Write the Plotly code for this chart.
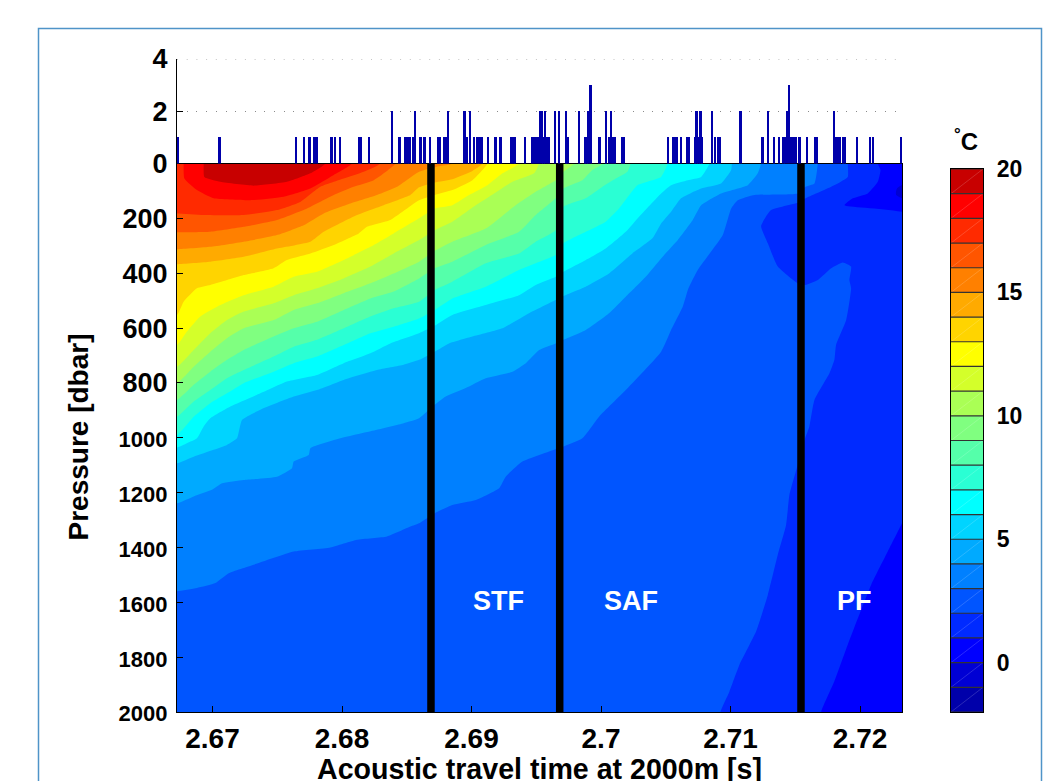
import plotly.graph_objects as go

W, H = 1051, 781
X_RANGE = [2.66726, 2.72324]

# Isotherm paths: travel time [s] and pressure [dbar]
iso = {}
iso[19] = ([2.66932,2.66937,2.67061,2.67318,2.67575,2.67756,2.67871],
           [0,49,67,81,67,36,0])
iso[18] = ([2.66777,2.66783,2.66880,2.67009,2.67292,2.67550,2.67756,2.67936,2.68077],
           [0,55,97,127,134,121,91,42,0])
iso[17] = ([2.66726,2.66932,2.67241,2.67498,2.67678,2.67833,2.68013,2.68167,2.68296],
           [182,188,188,170,140,85,55,30,0])
iso[16] = ([2.66726,2.66983,2.67241,2.67498,2.67730,2.67936,2.68090,2.68245,2.68412],
           [251,249,231,206,164,115,85,61,0])
iso[15] = ([2.66726,2.66983,2.67241,2.67498,2.67704,2.67859,2.68064,2.68270,2.68425,2.68595,2.68749,2.68852],
           [313,304,285,261,225,182,146,115,85,30,10,0])
iso[14] = ([2.66726,2.66983,2.67241,2.67498,2.67756,2.67859,2.68116,2.68322,2.68528,2.68595,2.68716,2.68852,2.69007,2.69084],
           [367,358,340,310,285,249,188,152,115,87,69,57,27,0])
iso[13] = ([2.66726,2.66777,2.66880,2.66983,2.67112,2.67241,2.67472,2.67575,2.67756,2.67936,2.68129,2.68193,2.68373,2.68595,2.68716,2.68852,2.69007,2.69123],
           [552,504,455,443,425,407,382,352,328,297,255,231,206,134,115,97,61,0])
iso[12] = ([2.66726,2.66803,2.66906,2.67061,2.67241,2.67472,2.67627,2.67807,2.68013,2.68219,2.68399,2.68595,2.68716,2.68852,2.68981,2.69123,2.69239,2.69367],
           [662,613,558,516,480,449,413,395,352,304,255,200,164,152,115,79,36,0])
iso[11] = ([2.66726,2.66855,2.66983,2.67112,2.67241,2.67472,2.67627,2.67807,2.68013,2.68219,2.68399,2.68595,2.68716,2.68852,2.69033,2.69136,2.69316,2.69483,2.69522],
           [741,680,619,571,540,510,480,455,419,376,328,279,243,212,152,121,67,36,0])
iso[10] = ([2.66726,2.66855,2.66983,2.67112,2.67241,2.67472,2.67627,2.67807,2.68013,2.68219,2.68399,2.68595,2.68716,2.68852,2.69110,2.69341,2.69496,2.69650,2.69710,2.69792],
           [801,741,686,637,601,571,534,510,473,437,401,358,318,285,237,152,103,61,30,0])
iso[9] = ([2.66726,2.66855,2.66983,2.67112,2.67241,2.67472,2.67627,2.67807,2.68013,2.68219,2.68399,2.68595,2.68716,2.68852,2.69110,2.69367,2.69496,2.69650,2.69710,2.69856,2.69933,2.70016],
          [862,807,759,716,680,631,601,577,534,492,467,419,382,358,297,249,188,127,91,61,24,0])
iso[8] = ([2.66726,2.66855,2.66983,2.67112,2.67241,2.67472,2.67627,2.67807,2.68013,2.68219,2.68399,2.68595,2.68716,2.68852,2.69110,2.69367,2.69496,2.69650,2.69710,2.69882,2.70011,2.70114,2.70204,2.70229],
          [923,868,826,783,753,704,668,643,601,558,528,504,461,431,364,328,285,243,158,127,85,55,30,0])
iso[7] = ([2.66726,2.66855,2.66983,2.67112,2.67241,2.67472,2.67627,2.67807,2.68013,2.68219,2.68399,2.68595,2.68716,2.68852,2.69110,2.69367,2.69496,2.69650,2.69710,2.69882,2.70036,2.70139,2.70281,2.70397,2.70464,2.70515],
          [989,923,874,838,801,759,728,704,662,619,595,565,534,492,449,388,364,334,291,249,212,164,79,61,49,0])
iso[6] = ([2.66726,2.66803,2.66880,2.66932,2.66983,2.67138,2.67370,2.67575,2.67807,2.68013,2.68219,2.68373,2.68595,2.68716,2.68852,2.69110,2.69367,2.69496,2.69650,2.69710,2.69882,2.70036,2.70191,2.70294,2.70464,2.70541,2.70670,2.70773,2.70837],
          [1036,1020,1002,959,929,886,838,795,771,728,692,656,619,591,552,516,480,443,413,395,352,310,249,194,109,79,61,49,0])
iso[5] = ([2.66726,2.66855,2.67009,2.67112,2.67189,2.67228,2.67370,2.67627,2.67807,2.68013,2.68270,2.68476,2.68595,2.68716,2.68827,2.69007,2.69239,2.69444,2.69650,2.69710,2.69882,2.70062,2.70242,2.70397,2.70464,2.70541,2.70618,2.70773,2.70927,2.71005,2.71010],
          [1093,1069,1044,1026,1002,935,898,850,826,789,753,734,716,686,656,631,601,546,498,483,449,401,328,273,219,176,127,91,73,24,0])
iso[4] = ([2.66726,2.66855,2.66996,2.67073,2.67241,2.67498,2.67614,2.67627,2.67743,2.67756,2.67987,2.68270,2.68476,2.68595,2.68716,2.68801,2.68955,2.69110,2.69316,2.69419,2.69522,2.69650,2.69710,2.69882,2.70062,2.70191,2.70345,2.70464,2.70593,2.70708,2.70773,2.70927,2.71133,2.71210,2.71236],
          [1239,1214,1190,1166,1154,1142,1111,1087,1063,1038,1002,971,947,929,880,850,819,783,759,728,680,656,643,607,546,486,413,346,279,206,152,109,79,36,0])
iso[3] = ([2.66726,2.66880,2.67022,2.67125,2.67318,2.67627,2.67910,2.68116,2.68348,2.68528,2.68595,2.68716,2.68852,2.69033,2.69213,2.69264,2.69393,2.69650,2.69710,2.69856,2.69985,2.70191,2.70464,2.70541,2.70631,2.70675,2.70747,2.70940,2.71005,2.71056,2.71185,2.71519,2.71579,2.71648,2.71674],
          [1560,1548,1530,1494,1463,1415,1400,1372,1360,1324,1312,1275,1245,1227,1184,1142,1087,1042,1032,1002,923,826,686,607,522,455,388,261,164,134,115,109,85,73,0])
iso[2] = ([2.70922,2.70992,2.71069,2.71198,2.71288,2.71365,2.71429,2.71455,2.71519,2.71576,2.71609,2.71648,2.71764,2.71802,2.71815,2.71893,2.71931,2.71918,2.71931,2.71867,2.71777,2.71674,2.71579,2.71519,2.71365,2.71288,2.71236,2.71313,2.71519,2.71579,2.71777,2.71905,2.71905],
          [2000,1925,1828,1706,1573,1427,1318,1208,1099,1002,959,862,765,716,662,571,455,425,376,361,382,425,443,437,376,291,228,170,143,127,85,49,0])
iso[1] = ([2.71700,2.71802,2.71905,2.72086,2.72214,2.72324,2.72450,2.72450,2.71880,2.71944,2.72060,2.72137,2.72158,2.72137],
          [2000,1888,1755,1536,1415,1312,1190,196,152,127,109,67,24,0])
cold_x = [2.72400,2.72285,2.72279,2.72400]
cold_p = [60,91,115,140]

# Colour of the band above each level, from -2 up to 20
levels = list(range(-2, 20))
band_colors = ["#0000aa","#0000d4","#0000ff","#002aff","#0055ff","#0080ff","#00aaff","#00d4ff",
               "#00ffff","#2affd4","#55ffaa","#80ff80","#aaff55","#d4ff2a","#ffff00","#ffd400",
               "#ffaa00","#ff8000","#ff5500","#ff2a00","#ff0000","#c80000"]

fronts = {"STF": 2.68687, "SAF": 2.69681, "PF": 2.71544}
front_labels = [("STF", 2.69212, 1594), ("SAF", 2.70232, 1594), ("PF", 2.71954, 1594)]

# Number of profiles per travel-time bin
bar_x = [2.6673,2.67053,2.67645,2.67707,2.67748,2.67784,2.67804,2.67918,2.67946,2.67987,2.68134,2.68144,2.68206,
         2.68386,2.68445,2.68486,2.68507,2.6852,2.68548,2.68566,2.68607,2.68638,2.68677,2.68746,2.68757,2.68788,
         2.68803,2.68816,2.68945,2.68963,2.68986,2.69017,2.69045,2.6906,2.69076,2.69125,2.69184,2.69225,2.69305,
         2.69323,2.69338,2.69413,2.69467,2.69483,2.69498,2.69514,2.69529,2.69544,2.69555,2.69568,2.69583,2.69598,
         2.69645,2.69676,2.69727,2.6974,2.69828,2.69876,2.69889,2.69902,2.69918,2.69987,2.70036,2.70064,2.70075,
         2.7009,2.70108,2.70162,2.70178,2.70515,2.70556,2.70571,2.70587,2.70618,2.70664,2.7068,2.70726,2.70736,
         2.70752,2.70767,2.7078,2.70855,2.7088,2.70903,2.70919,2.71076,2.71246,2.71287,2.71336,2.71375,2.71408,
         2.71423,2.71436,2.71454,2.71472,2.7149,2.71503,2.71532,2.71588,2.71655,2.71668,2.71797,2.71812,2.71828,
         2.71843,2.71866,2.71879,2.71979,2.72077,2.72098,2.72314]
bar_n = [1,1,1,1,1,1,1,1,1,1,1,1,1,
         2,1,1,1,1,1,2,1,1,1,1,1,1,
         1,2,2,1,2,1,1,1,1,1,1,1,1,
         1,1,1,1,1,1,1,2,2,1,2,1,1,
         2,2,2,1,2,1,1,2,3,1,2,1,2,
         1,1,1,1,1,1,1,1,1,1,1,1,2,
         1,2,1,2,1,1,1,2,1,2,1,1,1,
         1,2,3,1,1,1,1,1,1,1,2,1,1,
         1,1,1,1,1,1,1]

x_ticks = [2.67, 2.68, 2.69, 2.70, 2.71, 2.72]
x_labels = ["2.67", "2.68", "2.69", "2.7", "2.71", "2.72"]
p_ticks = list(range(200, 2001, 200))
p_labels = [str(v) if v < 1000 else f"<span style='font-size:22px'>{v}</span>" for v in p_ticks]
n_ticks = [0, 2, 4]
n_top = 4
cb_ticks = list(range(-2, 21))
cb_label_vals = [0, 5, 10, 15, 20]

FONT = "Liberation Sans, Arial, sans-serif"
OUT = 0.002      # how far the closing part of a band outline runs beyond the axes
fig = go.Figure()

fill_style = dict(mode="lines", fill="toself", hoverinfo="skip", showlegend=False, xaxis="x", yaxis="y")

# Coldest visible band as the ground of the section
fig.add_trace(go.Scatter(
    x=[X_RANGE[0], X_RANGE[1], X_RANGE[1], X_RANGE[0]], y=[0, 0, 2000, 2000],
    line=dict(width=0), fillcolor=band_colors[levels.index(0)], **fill_style))

x0 = X_RANGE[0] - OUT
for t in sorted(iso):
    xs, ps = list(iso[t][0]), list(iso[t][1])
    if ps[0] >= 2000:                        # from the bottom edge to the top edge
        xs = [xs[0]] + xs + [xs[-1], x0, x0]
        ps = [2100] + ps + [-60, -60, 2100]
    elif xs[0] <= X_RANGE[0]:                # from the left edge to the top edge
        xs = [x0] + xs + [xs[-1], x0]
        ps = [ps[0]] + ps + [-60, -60]
    else:                                    # closed against the top edge
        xs = [xs[0]] + xs + [xs[-1]]
        ps = [-60] + ps + [-60]
    fig.add_trace(go.Scatter(
        x=xs, y=ps, line=dict(width=0, shape="spline", smoothing=0.45),
        fillcolor=band_colors[levels.index(t)], **fill_style))

fig.add_trace(go.Scatter(
    x=cold_x, y=cold_p, line=dict(width=0, shape="spline", smoothing=0.6),
    fillcolor=band_colors[levels.index(-1)], **fill_style))

for name, xf in fronts.items():
    fig.add_trace(go.Scatter(
        x=[xf, xf], y=[0, 2000], mode="lines", line=dict(color="#000000", width=7.5),
        name=name, showlegend=False, xaxis="x", yaxis="y"))

for name, xf, pf in front_labels:
    fig.add_annotation(x=xf, y=pf, xref="x", yref="y", text=f"<b>{name}</b>", showarrow=False,
                       font=dict(family=FONT, size=27, color="white"))

# Histogram above the section
fig.add_trace(go.Scatter(
    x=X_RANGE, y=[n_top, n_top], mode="lines", line=dict(color="#8a8a8a", width=1, dash="1px 8.7px"),
    cliponaxis=False, hoverinfo="skip", showlegend=False, xaxis="x2", yaxis="y2"))
fig.add_trace(go.Bar(
    x=bar_x, y=bar_n, width=0.00018, marker=dict(color="#0000aa", line=dict(width=0)),
    showlegend=False, xaxis="x2", yaxis="y2"))

# Colour key
fig.add_trace(go.Heatmap(
    x=[0.5], y=[v + 0.5 for v in levels], z=[[v + 0.5] for v in levels],
    zmin=-2, zmax=20, showscale=False, hoverinfo="skip",
    colorscale=[s for i, c in enumerate(band_colors) for s in ((i / 22, c), ((i + 1) / 22, c))],
    xaxis="x3", yaxis="y3"))
seam_x, seam_y = [], []
for v in levels:
    seam_x += [0, 1, None]
    seam_y += [v, v + 1, None]
fig.add_trace(go.Scatter(x=seam_x, y=seam_y, mode="lines",
                         line=dict(color="rgba(255,255,255,0.28)", width=0.6),
                         hoverinfo="skip", showlegend=False, xaxis="x3", yaxis="y3"))
line_x, line_y = [], []
for v in cb_ticks:
    line_x += [-0.19, 1.16, None]
    line_y += [v, v, None]
fig.add_trace(go.Scatter(x=line_x, y=line_y, mode="lines", line=dict(color="#333333", width=1.2),
                         cliponaxis=False, hoverinfo="skip", showlegend=False, xaxis="x3", yaxis="y3"))

common_y = dict(automargin=False, ticks="inside", ticklen=6, tickcolor="#000000", showline=True,
                linecolor="#000000", linewidth=1.2, zeroline=False,
                tickfont=dict(size=27, family=FONT, weight="bold"), ticklabelstandoff=3)

fig.update_layout(
    width=W, height=H, margin=dict(l=0, r=0, t=0, b=0), template="none",
    paper_bgcolor="white", plot_bgcolor="white", showlegend=False, bargap=0, barmode="overlay",
    font=dict(family=FONT, color="#000000"),
    xaxis=dict(domain=[177 / W, 902 / W], range=X_RANGE, tickmode="array", tickvals=x_ticks, ticktext=x_labels,
               automargin=False, ticks="inside", ticklen=6, tickcolor="#000000", showline=True,
               linecolor="#000000", linewidth=1.2, mirror=True, showgrid=False, zeroline=False,
               tickfont=dict(size=28, family=FONT, weight="bold"), ticklabelstandoff=1),
    yaxis=dict(domain=[(H - 712) / H, (H - 163.5) / H], range=[2000, 0], tickmode="array", tickvals=p_ticks,
               ticktext=p_labels, mirror=True, showgrid=False, **common_y),
    xaxis2=dict(domain=[177 / W, 902 / W], range=X_RANGE, anchor="y2", showticklabels=False, ticks="",
                automargin=False, showgrid=False, zeroline=False, showline=False),
    yaxis2=dict(domain=[(H - 163.5) / H, (H - 59) / H], range=[0, n_top], anchor="x2", tickmode="array", tickvals=n_ticks,
                showgrid=True, gridcolor="#8a8a8a", griddash="1px 8.7px", gridwidth=1, **common_y),
    xaxis3=dict(domain=[951 / W, 983 / W], range=[0, 1], anchor="y3", showticklabels=False, ticks="",
                automargin=False, showgrid=False, zeroline=False, showline=True, linecolor="#000000", linewidth=1.2, mirror=True),
    yaxis3=dict(domain=[(H - 712) / H, (H - 169) / H], range=[-2, 20], anchor="x3", side="right", tickmode="array",
                tickvals=cb_label_vals, ticks="outside", ticklen=8, tickcolor="rgba(0,0,0,0)", automargin=False,
                showline=True, linecolor="#000000", linewidth=1.2, mirror=True, showgrid=False, zeroline=False,
                tickfont=dict(size=23, family=FONT, weight="bold")),
    shapes=[dict(type="rect", xref="paper", yref="paper", x0=38.5 / W, x1=1041.5 / W, y0=-0.2, y1=(H - 28.5) / H,
                 line=dict(color="#4f94c8", width=1.5), fillcolor="rgba(0,0,0,0)", layer="below")],
    annotations=list(fig.layout.annotations) + [
        dict(x=980 / W, y=(H - 123) / H, xref="paper", yref="paper", showarrow=False, xanchor="right", yanchor="top",
             text="<b><sup>°</sup>C</b>", font=dict(family=FONT, size=24, color="#000000")),
        dict(x=539 / W, y=(H - 768.5) / H, xref="paper", yref="paper", showarrow=False, xanchor="center", yanchor="middle",
             text="<b>Acoustic travel time at 2000m [s]</b>", font=dict(family=FONT, size=28.6, color="#000000")),
        dict(x=78 / W, y=(H - 437.5) / H, xref="paper", yref="paper", showarrow=False, textangle=-90, xanchor="center", yanchor="middle",
             text="<b>Pressure [dbar]</b>", font=dict(family=FONT, size=28, color="#000000"))],
)

fig.write_html("out.html", config=dict(displayModeBar=False),
               post_script="document.body.style.margin='0';document.body.style.overflow='hidden';")
